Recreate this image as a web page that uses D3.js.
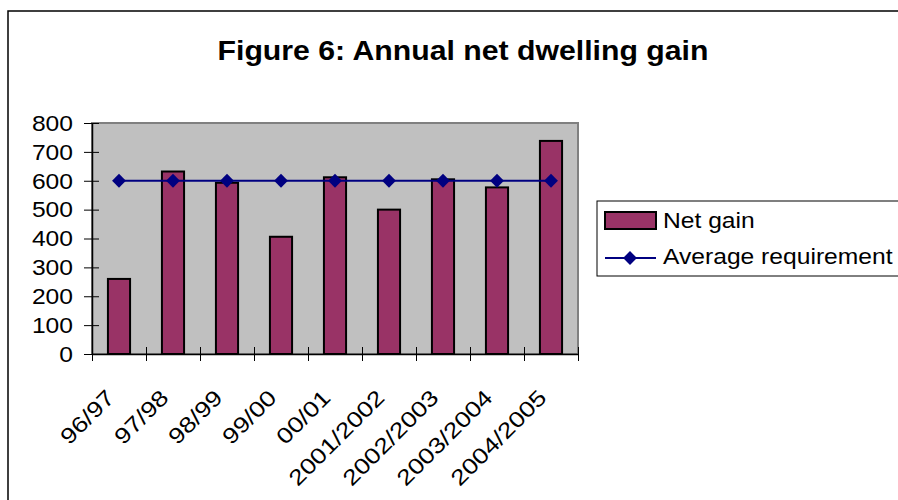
<!DOCTYPE html>
<html>

<head>
    <meta charset="utf-8">
    <style>
        body {
            margin: 0;
            background: #fff;
        }

        svg {
            display: block;
            font-family: Arial, 'Liberation Sans', sans-serif;
        }
    </style>
</head>

<body>
    <svg width="898" height="500"></svg>
</body>

<script src="https://d3js.org/d3.v7.min.js"></script>

<script>

    // chart data
    let periods = ["96/97", "97/98", "98/99", "99/00", "00/01", "2001/2002", "2002/2003", "2003/2004", "2004/2005"];
    let netGain = [260, 632, 593, 406, 612, 500, 605, 577, 738];
    let averageRequirement = [600, 600, 600, 600, 600, 600, 600, 600, 600];
    let yTicks = [0, 100, 200, 300, 400, 500, 600, 700, 800];
    let seriesNames = ["Net gain", "Average requirement"];

    let plot = { left: 92, right: 578, top: 123, bottom: 354 };
    let stretch = 1.12; // text in the original is a bit wider than Arial

    let svg = d3.select("svg");

    // outer frame
    svg.append("rect")
        .attr("x", 8)
        .attr("y", 11)
        .attr("width", 910)
        .attr("height", 510)
        .style("fill", "none")
        .style("stroke", "#000")
        .style("stroke-width", 1.5)

    svg.append("text")
        .attr("transform", "translate(463,60) scale(" + stretch + ",1)")
        .attr("text-anchor", "middle")
        .style("font-size", "27px")
        .style("font-weight", "bold")
        .text("Figure 6: Annual net dwelling gain")

    let x = d3.scaleBand()
        .domain(periods)
        .range([plot.left, plot.right])

    let xEdges = d3.scaleLinear()
        .domain([0, periods.length])
        .range([plot.left, plot.right])

    let y = d3.scaleLinear()
        .domain([0, 800])
        .range([plot.bottom, plot.top])

    // grey plot area
    svg.append("rect")
        .attr("x", plot.left)
        .attr("y", plot.top)
        .attr("width", plot.right - plot.left)
        .attr("height", plot.bottom - plot.top)
        .style("fill", "#c0c0c0")
        .style("stroke", "#808080")
        .style("stroke-width", 2)

    let barWidth = x.bandwidth() * 0.41;

    svg.append("g")
        .selectAll("rect")
        .data(netGain)
        .join("rect")
        .attr("x", (d, i) => x(periods[i]) + (x.bandwidth() - barWidth) / 2)
        .attr("y", d => y(d))
        .attr("width", barWidth)
        .attr("height", d => y(0) - y(d))
        .style("fill", "#993366")
        .style("stroke", "#000")
        .style("stroke-width", 2)

    // y axis, ticks cross the line
    let yAxis = svg.append("g")
        .attr("transform", "translate(" + plot.left + ",0)")
        .call(d3.axisLeft(y).tickValues(yTicks).tickSize(0).tickFormat(""))

    yAxis.select(".domain").style("stroke", "#000").style("stroke-width", 1.5)
    yAxis.selectAll(".tick line")
        .attr("x1", -8)
        .attr("x2", 7)
        .style("stroke", "#000")

    svg.append("g")
        .selectAll("text")
        .data(yTicks)
        .join("text")
        .attr("transform", d => "translate(73," + (y(d) + 7.8) + ") scale(" + stretch + ",1)")
        .attr("text-anchor", "end")
        .style("font-size", "22px")
        .text(d => d)

    // x axis
    let xAxis = svg.append("g")
        .attr("transform", "translate(0," + plot.bottom + ")")
        .call(d3.axisBottom(xEdges).tickValues(d3.range(periods.length + 1)).tickSize(0).tickFormat(""))

    xAxis.select(".domain").style("stroke", "#000").style("stroke-width", 1.5)
    xAxis.selectAll(".tick line")
        .attr("y1", -7)
        .attr("y2", 7)
        .style("stroke", "#000")

    svg.append("g")
        .selectAll("text")
        .data(periods)
        .join("text")
        .attr("transform", d => "translate(" + (x(d) + x.bandwidth() / 2 - 3) + ",399) rotate(-45) scale(1.2,1)")
        .attr("text-anchor", "end")
        .style("font-size", "22px")
        .text(d => d)

    // average requirement line
    let cx = (d, i) => x(periods[i]) + x.bandwidth() / 2;

    let line = d3.line()
        .x(cx)
        .y(d => y(d))

    svg.append("path")
        .datum(averageRequirement)
        .attr("d", line)
        .style("fill", "none")
        .style("stroke", "#000080")
        .style("stroke-width", 2)

    let diamond = d3.symbol().type(d3.symbolSquare).size(96);

    svg.append("g")
        .selectAll("path")
        .data(averageRequirement)
        .join("path")
        .attr("d", diamond)
        .attr("transform", (d, i) => "translate(" + cx(d, i) + "," + y(d) + ") rotate(45)")
        .style("fill", "#000080")

    // legend
    let legend = svg.append("g")

    legend.append("rect")
        .attr("x", 597)
        .attr("y", 201)
        .attr("width", 320)
        .attr("height", 75)
        .style("fill", "#fff")
        .style("stroke", "#000")
        .style("stroke-width", 1)

    legend.append("rect")
        .attr("x", 605)
        .attr("y", 212)
        .attr("width", 51)
        .attr("height", 17)
        .style("fill", "#993366")
        .style("stroke", "#000")
        .style("stroke-width", 2)

    legend.append("line")
        .attr("x1", 605)
        .attr("x2", 656)
        .attr("y1", 258)
        .attr("y2", 258)
        .style("stroke", "#000080")
        .style("stroke-width", 2)

    legend.append("path")
        .attr("d", diamond)
        .attr("transform", "translate(630,258) rotate(45)")
        .style("fill", "#000080")

    legend.selectAll(".legend-label")
        .data(seriesNames)
        .join("text")
        .attr("class", "legend-label")
        .attr("transform", (d, i) => "translate(663," + (228 + i * 36) + ") scale(" + stretch + ",1)")
        .style("font-size", "22px")
        .text(d => d)

</script>

</html>
